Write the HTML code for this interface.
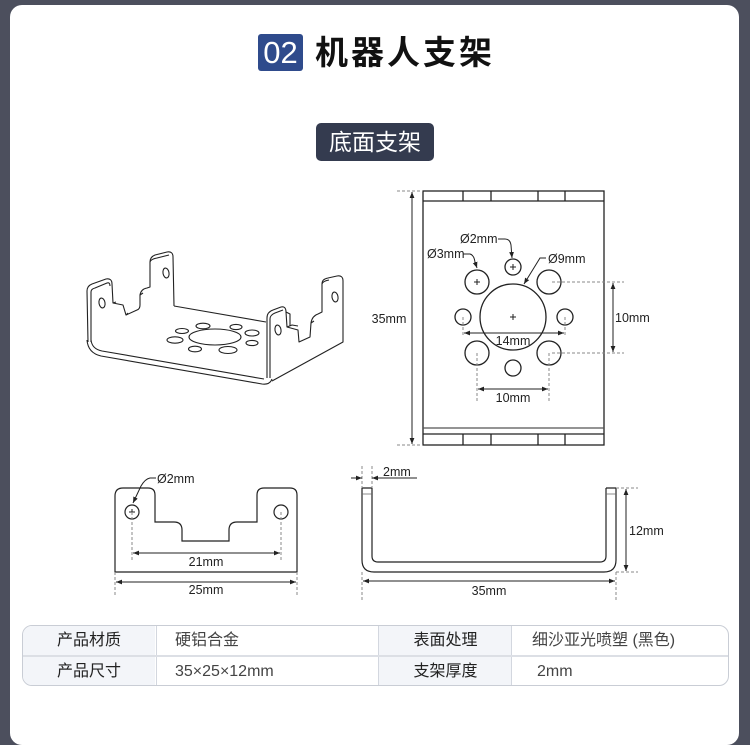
<!DOCTYPE html>
<html><head><meta charset="utf-8">
<style>
html,body{margin:0;padding:0;}
body{width:750px;height:707px;overflow:hidden;background:#4c4f5d;position:relative;font-family:"Liberation Sans","Noto Sans CJK SC",sans-serif;}
.card{position:absolute;left:10px;top:5px;width:729px;height:740px;background:#fff;border-radius:12px;}
.num{position:absolute;left:258px;top:34px;width:45px;height:37px;background:#2f4b8c;border-radius:3px;color:#fff;font-size:31px;line-height:37px;text-align:center;font-family:"Liberation Sans",sans-serif;}
.title{position:absolute;left:315px;top:33px;height:40px;line-height:40px;font-size:33px;font-weight:bold;color:#111;font-family:"Liberation Sans","Noto Sans CJK SC",sans-serif;letter-spacing:3px;white-space:nowrap;}
.tag{position:absolute;left:316px;top:123px;width:118px;height:38px;background:#343b4f;border-radius:5px;color:#fff;font-size:23px;line-height:38px;text-align:center;font-family:"Liberation Sans","Noto Sans CJK SC",sans-serif;}
svg{position:absolute;left:0;top:0;}
.tbl{position:absolute;left:22px;top:625px;width:705px;height:59px;border:1px solid #c9cdd5;border-radius:10px;overflow:hidden;background:#fff;}
.row{position:absolute;left:0;width:705px;height:29px;}
.c{position:absolute;top:0;height:29px;line-height:29px;font-size:16px;white-space:nowrap;font-family:"Liberation Sans","Noto Sans CJK SC",sans-serif;}
.lab{background:#f3f5f9;color:#222;text-align:center;}
.val{color:#444;padding-left:18px;box-sizing:border-box;}
</style></head><body>
<div class="card"></div>
<div class="num">02</div>
<div class="title">机器人支架</div>
<div class="tag">底面支架</div>

<svg width="750" height="707" viewBox="0 0 750 707" xmlns="http://www.w3.org/2000/svg">
<defs>
<marker id="a" viewBox="0 0 10 10" refX="10" refY="5" markerWidth="6" markerHeight="6" orient="auto-start-reverse" markerUnits="userSpaceOnUse">
<path d="M0,1 L10,5 L0,9 Z" fill="#222"/>
</marker>
</defs>

<!-- ISO drawing -->
<g fill="none" stroke="#222" stroke-width="1.1" stroke-linejoin="round">
<path d="M88,342 L87,291 Q87,286 92,284 L106,279 Q112,278 112,284 L113,303 L123,305 L126,315 L137,310 Q140,309 140,305 L140,295 Q141,289 147,288 L150,287 L150,262 Q150,257 155,255 L167,252 Q173,251 173,257 L174,306"/>
<path d="M91,342 L91,292 Q91,289 95,288 L107,283 Q110,282 110,286 M113,303 L116,302 M126,315 L128,313 M140,295 L143,293 M150,262 Q151,259 157,258 L169,255"/>
<path d="M87,340 Q88,353 101,356 L262,384 Q270,385 272,379"/>
<path d="M91,340 Q92,349 102,351 L264,379"/>
<path d="M174,306 L266,322"/>
<path d="M267,378 L267,318 Q267,312 273,310 L281,307 Q286,306 286,312 L287,327 L298,330 L299,342 L310,337 L311,323 Q312,316 318,314 L322,312 L322,284 Q322,279 328,278 L337,276 Q343,275 343,281 L343,342 L272,381"/>
<path d="M270,378 L270,319 Q270,315 275,313 L283,310 M287,327 L292,325 L298,326 M311,323 L314,321 M322,284 Q323,281 329,280"/>
<path d="M286,312 L290,314 L290,326"/>
<ellipse cx="102" cy="303" rx="3" ry="5" transform="rotate(-10 102 303)"/>
<ellipse cx="166" cy="273" rx="3" ry="5" transform="rotate(-10 166 273)"/>
<ellipse cx="278" cy="330" rx="3" ry="5" transform="rotate(-10 278 330)"/>
<ellipse cx="335" cy="297" rx="3" ry="5" transform="rotate(-10 335 297)"/>
<ellipse cx="215" cy="337" rx="26" ry="8"/>
<ellipse cx="203" cy="326" rx="7" ry="2.8"/>
<ellipse cx="236" cy="327" rx="6" ry="2.6"/>
<ellipse cx="182" cy="331" rx="6.5" ry="2.5"/>
<ellipse cx="252" cy="333" rx="7" ry="3"/>
<ellipse cx="175" cy="340" rx="8" ry="3.2"/>
<ellipse cx="252" cy="343" rx="6" ry="2.6"/>
<ellipse cx="195" cy="349" rx="6.5" ry="2.8"/>
<ellipse cx="228" cy="350" rx="9" ry="3.5"/>
</g>

<!-- TOP VIEW -->
<g fill="none" stroke="#222" stroke-width="1.3">
<rect x="423" y="191" width="181" height="254"/>
<line x1="423" y1="201" x2="604" y2="201"/>
<line x1="463" y1="191" x2="463" y2="201"/><line x1="491" y1="191" x2="491" y2="201"/>
<line x1="538" y1="191" x2="538" y2="201"/><line x1="565" y1="191" x2="565" y2="201"/>
<line x1="423" y1="428" x2="604" y2="428" stroke="#555"/>
<line x1="423" y1="434" x2="604" y2="434"/>
<line x1="463" y1="434" x2="463" y2="445"/><line x1="491" y1="434" x2="491" y2="445"/>
<line x1="538" y1="434" x2="538" y2="445"/><line x1="565" y1="434" x2="565" y2="445"/>
<circle cx="513" cy="317" r="33"/>
<circle cx="477" cy="282" r="12"/>
<circle cx="549" cy="282" r="12"/>
<circle cx="477" cy="353" r="12"/>
<circle cx="549" cy="353" r="12"/>
<circle cx="513" cy="267" r="8"/>
<circle cx="513" cy="368" r="8"/>
<circle cx="463" cy="317" r="8"/>
<circle cx="565" cy="317" r="8"/>
</g>
<g stroke="#222" stroke-width="1" fill="none">
<path d="M474,282 h6 M477,279 v6 M510,267 h6 M513,264 v6 M510,317 h6 M513,314 v6"/>
</g>
<g stroke="#888" stroke-width="1" stroke-dasharray="3,2" fill="none">
<line x1="397" y1="191" x2="423" y2="191"/><line x1="397" y1="445" x2="423" y2="445"/>
<line x1="463" y1="317" x2="463" y2="337"/><line x1="565" y1="317" x2="565" y2="337"/>
<line x1="477" y1="353" x2="477" y2="401"/><line x1="549" y1="353" x2="549" y2="401"/>
<line x1="552" y1="282" x2="624" y2="282"/><line x1="552" y1="353" x2="624" y2="353"/>
</g>
<g stroke="#222" stroke-width="1" fill="none">
<line x1="412" y1="192" x2="412" y2="444" marker-start="url(#a)" marker-end="url(#a)"/>
<line x1="464" y1="333" x2="564" y2="333" marker-start="url(#a)" marker-end="url(#a)"/>
<line x1="478" y1="389" x2="548" y2="389" marker-start="url(#a)" marker-end="url(#a)"/>
<line x1="613" y1="283" x2="613" y2="352" marker-start="url(#a)" marker-end="url(#a)"/>
<path d="M498,239 L505,239 Q510,239 511,245 L512,258" marker-end="url(#a)"/>
<path d="M463,254 L470,254 Q474,255 475,262 L477,268" marker-end="url(#a)"/>
<path d="M546,258 L540,258 L524,284" marker-end="url(#a)"/>
</g>
<g font-family="Liberation Sans, sans-serif" font-size="12.5" fill="#222">
<text x="389" y="323" text-anchor="middle">35mm</text>
<text x="513" y="345" text-anchor="middle">14mm</text>
<text x="513" y="402" text-anchor="middle">10mm</text>
<text x="615" y="322">10mm</text>
<text x="460" y="243">Ø2mm</text>
<text x="427" y="258">Ø3mm</text>
<text x="548" y="263">Ø9mm</text>
</g>

<!-- BOTTOM LEFT -->
<g fill="none" stroke="#222" stroke-width="1.2">
<path d="M115,572 L115,496 Q115,488 123,488 L148,488 Q155,488 155,495 L155,522 L174,522 Q182,522 182,530 L182,541 L229,541 L229,530 Q229,522 237,522 L257,522 L257,495 Q257,488 264,488 L290,488 Q297,488 297,495 L297,572 Z"/>
<circle cx="132" cy="512" r="7"/>
<circle cx="281" cy="512" r="7"/>
</g>
<path d="M129,512 h6 M132,509 v6" stroke="#222" stroke-width="1"/>
<g stroke="#888" stroke-width="1" stroke-dasharray="3,2" fill="none">
<line x1="132" y1="512" x2="132" y2="562"/><line x1="281" y1="512" x2="281" y2="562"/>
<line x1="115" y1="572" x2="115" y2="597"/><line x1="297" y1="572" x2="297" y2="597"/>
</g>
<g stroke="#222" stroke-width="1" fill="none">
<line x1="133" y1="553" x2="280" y2="553" marker-start="url(#a)" marker-end="url(#a)"/>
<line x1="116" y1="582" x2="296" y2="582" marker-start="url(#a)" marker-end="url(#a)"/>
<path d="M156,478 L150,478 Q145,479 141,486 L133,503" marker-end="url(#a)"/>
</g>
<g font-family="Liberation Sans, sans-serif" font-size="12.5" fill="#222">
<text x="206" y="566" text-anchor="middle">21mm</text>
<text x="206" y="594" text-anchor="middle">25mm</text>
<text x="157" y="483">Ø2mm</text>
</g>

<!-- BOTTOM RIGHT -->
<g fill="none" stroke="#222" stroke-width="1.2">
<path d="M362,488 L362,560 Q362,572 374,572 L604,572 Q616,572 616,560 L616,488"/>
<path d="M372,488 L372,556 Q372,562 378,562 L600,562 Q606,562 606,556 L606,488"/>
<path d="M362,488 H372 M606,488 H616"/>
<path d="M362,494 H372 M606,494 H616" stroke="#666" stroke-width="0.8"/>
</g>
<g stroke="#888" stroke-width="1" stroke-dasharray="3,2" fill="none">
<line x1="362" y1="466" x2="362" y2="488"/><line x1="372" y1="466" x2="372" y2="488"/>
<line x1="616" y1="488" x2="638" y2="488"/><line x1="616" y1="572" x2="638" y2="572"/>
<line x1="362" y1="572" x2="362" y2="600"/><line x1="616" y1="572" x2="616" y2="600"/>
</g>
<g stroke="#222" stroke-width="1" fill="none">
<line x1="351" y1="478" x2="362" y2="478" marker-end="url(#a)"/>
<line x1="417" y1="478" x2="372" y2="478" marker-end="url(#a)"/>
<line x1="626" y1="489" x2="626" y2="571" marker-start="url(#a)" marker-end="url(#a)"/>
<line x1="363" y1="581" x2="615" y2="581" marker-start="url(#a)" marker-end="url(#a)"/>
</g>
<g font-family="Liberation Sans, sans-serif" font-size="12.5" fill="#222">
<text x="383" y="476">2mm</text>
<text x="629" y="535">12mm</text>
<text x="489" y="595" text-anchor="middle">35mm</text>
</g>
</svg>

<div class="tbl">
  <div class="row" style="top:0;">
    <div class="c lab" style="left:0;width:132px;">产品材质</div>
    <div class="c val" style="left:133px;width:222px;border-left:1px solid #d3d7df;">硬铝合金</div>
    <div class="c lab" style="left:355px;width:133px;border-left:1px solid #d3d7df;">表面处理</div>
    <div class="c val" style="left:488px;width:217px;border-left:1px solid #d3d7df;padding-left:20px;">细沙亚光喷塑 (黑色)</div>
  </div>
  <div style="position:absolute;left:0;top:29px;width:705px;height:2px;background:#dcdfe5;"></div>
  <div class="row" style="top:31px;">
    <div class="c lab" style="left:0;width:132px;">产品尺寸</div>
    <div class="c val" style="left:133px;width:222px;border-left:1px solid #d3d7df;">35×25×12mm</div>
    <div class="c lab" style="left:355px;width:133px;border-left:1px solid #d3d7df;">支架厚度</div>
    <div class="c val" style="left:488px;width:217px;border-left:1px solid #d3d7df;padding-left:25px;">2mm</div>
  </div>
</div>
</body></html>
